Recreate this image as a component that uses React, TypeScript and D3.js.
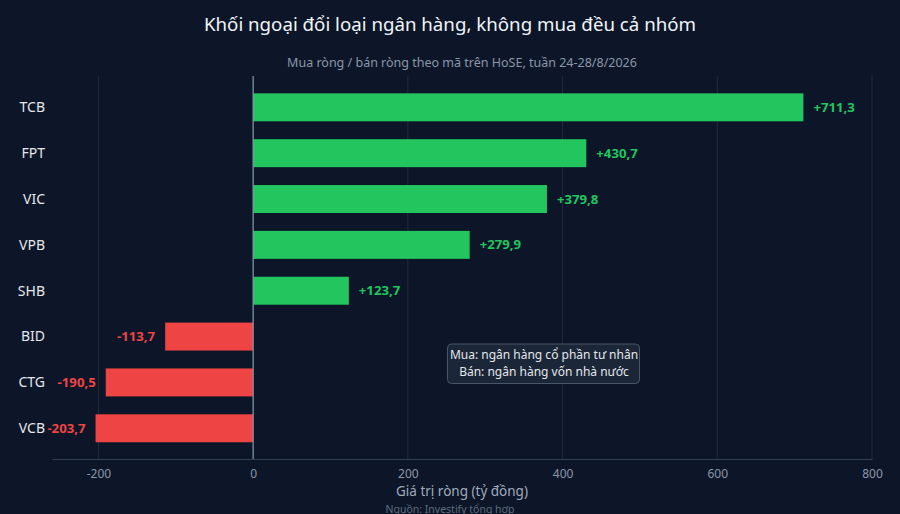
import React, { useEffect, useRef } from 'react';
import * as d3 from 'd3';

const tickers = ['TCB', 'FPT', 'VIC', 'VPB', 'SHB', 'BID', 'CTG', 'VCB'];
const netValues = [711.3, 430.7, 379.8, 279.9, 123.7, -113.7, -190.5, -203.7];
const xTicks = [-200, 0, 200, 400, 600, 800];
const noteLines = ['Mua: ngân hàng cổ phần tư nhân', 'Bán: ngân hàng vốn nhà nước'];

const W = 900;
const H = 514;
const BG = '#0c1628';
const GREEN = '#22c55e';
const RED = '#ef4444';
const FONT = '"Noto Sans", "Open Sans", sans-serif';

const fmt = (v: number) => (v > 0 ? '+' : '') + v.toFixed(1).replace('.', ',');

const App: React.FC = () => {
  const svgRef = useRef<SVGSVGElement | null>(null);

  useEffect(() => {
    const svg = d3.select(svgRef.current);
    svg.selectAll('*').remove();

    const plotLeft = 52;
    const plotRight = 872;
    const plotTop = 76;
    const plotBottom = 459;

    const x = d3.scaleLinear().domain([-260, 800]).range([plotLeft, plotRight]);
    const y = d3.scaleBand<string>()
      .domain(tickers)
      .range([84.4, 451.2])
      .paddingInner(0.39)
      .paddingOuter(0.195);

    svg.append('rect').attr('width', W).attr('height', H).attr('fill', BG);

    // title + subtitle
    svg.append('text')
      .attr('x', W / 2).attr('y', 31)
      .attr('text-anchor', 'middle')
      .attr('font-size', 18.7).attr('fill', '#f1f5f9')
      .text('Khối ngoại đổi loại ngân hàng, không mua đều cả nhóm');
    svg.append('text')
      .attr('x', 462).attr('y', 67)
      .attr('text-anchor', 'middle')
      .attr('font-size', 12.5).attr('fill', '#8b96a8')
      .text('Mua ròng / bán ròng theo mã trên HoSE, tuần 24-28/8/2026');

    // grid
    svg.append('g')
      .selectAll('line')
      .data(xTicks.filter(t => t !== 0))
      .join('line')
      .attr('x1', d => x(d)).attr('x2', d => x(d))
      .attr('y1', plotTop).attr('y2', plotBottom)
      .attr('stroke', '#1f2b3e').attr('stroke-width', 1);

    // x axis
    const xAxis = svg.append('g')
      .attr('transform', `translate(0,${plotBottom})`)
      .call(d3.axisBottom(x).tickValues(xTicks).tickSize(0).tickPadding(10).tickFormat(d => String(d)));
    xAxis.select('.domain').attr('stroke', '#334155');
    xAxis.selectAll('text')
      .attr('fill', '#8b96a8')
      .attr('font-size', 12)
      .attr('font-family', FONT);

    // bars
    svg.append('g')
      .selectAll('rect')
      .data(tickers)
      .join('rect')
      .attr('x', (d, i) => x(Math.min(0, netValues[i])))
      .attr('y', d => y(d)!)
      .attr('width', (d, i) => Math.abs(x(netValues[i]) - x(0)))
      .attr('height', y.bandwidth())
      .attr('fill', (d, i) => (netValues[i] >= 0 ? GREEN : RED));

    // zero line
    svg.append('line')
      .attr('x1', x(0)).attr('x2', x(0))
      .attr('y1', plotTop).attr('y2', plotBottom)
      .attr('stroke', '#8a9ab0').attr('stroke-width', 1.2);

    // value labels
    svg.append('g')
      .selectAll('text')
      .data(tickers)
      .join('text')
      .attr('x', (d, i) => (netValues[i] >= 0 ? x(netValues[i]) + 10 : x(netValues[i]) - 10))
      .attr('y', d => y(d)! + y.bandwidth() / 2)
      .attr('dy', '0.35em')
      .attr('text-anchor', (d, i) => (netValues[i] >= 0 ? 'start' : 'end'))
      .attr('font-size', 13.2)
      .attr('font-weight', 700)
      .attr('fill', (d, i) => (netValues[i] >= 0 ? GREEN : RED))
      .text((d, i) => fmt(netValues[i]));

    // y labels
    svg.append('g')
      .selectAll('text')
      .data(tickers)
      .join('text')
      .attr('x', 45)
      .attr('y', d => y(d)! + y.bandwidth() / 2)
      .attr('dy', '0.35em')
      .attr('text-anchor', 'end')
      .attr('font-size', 14)
      .attr('fill', '#e5e7eb')
      .text(d => d);

    // axis title + source
    svg.append('text')
      .attr('x', (plotLeft + plotRight) / 2).attr('y', 496)
      .attr('text-anchor', 'middle')
      .attr('font-size', 13.5).attr('fill', '#a0aabb')
      .text('Giá trị ròng (tỷ đồng)');
    svg.append('text')
      .attr('x', W / 2).attr('y', 512.5)
      .attr('text-anchor', 'middle')
      .attr('font-size', 10.5).attr('fill', '#5f6b7e')
      .text('Nguồn: Investify tổng hợp');

    // note box
    const note = svg.append('g');
    note.append('rect')
      .attr('x', 447.5).attr('y', 344)
      .attr('width', 192).attr('height', 39.5)
      .attr('rx', 4)
      .attr('fill', '#1b2638')
      .attr('stroke', '#4a5568').attr('stroke-width', 1);
    note.selectAll('text.n')
      .data(noteLines)
      .join('text')
      .attr('class', 'n')
      .attr('x', 544)
      .attr('y', (d, i) => 355 + i * 16.5)
      .attr('dy', '0.35em')
      .attr('text-anchor', 'middle')
      .attr('font-size', 12)
      .attr('fill', '#e5e7eb')
      .text(d => d);
  }, []);

  return (
    <div style={{ position: 'absolute', left: 0, top: 0, width: W, height: H, overflow: 'hidden', background: BG }}>
      <svg ref={svgRef} width={W} height={H} style={{ display: 'block', fontFamily: FONT }} />
    </div>
  );
};

export default App;
